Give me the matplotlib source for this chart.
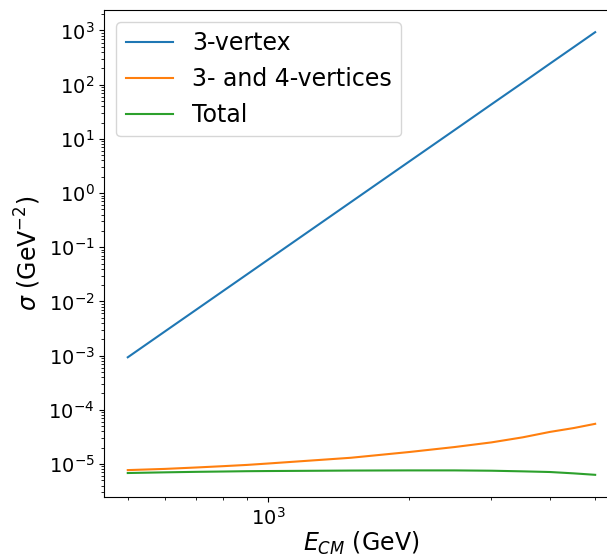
import numpy as np
import matplotlib.pyplot as plt

# data
energy = [500, 600, 700, 800, 900, 1000, 1500, 2000, 2500, 3000, 3500, 4000, 4500, 5000]

three_vertex = [9.3e-4, 2.78e-3, 7.0e-3, 1.56e-2, 3.16e-2, 5.95e-2, 0.678, 3.81,
                14.5, 43.4, 109, 244, 494, 930]
three_four = [7.7e-6, 8.1e-6, 8.6e-6, 9.1e-6, 9.6e-6, 1.02e-5, 1.3e-5, 1.66e-5,
              2.05e-5, 2.5e-5, 3.1e-5, 3.9e-5, 4.6e-5, 5.5e-5]
total = [6.8e-6, 7.0e-6, 7.15e-6, 7.25e-6, 7.35e-6, 7.4e-6, 7.55e-6, 7.6e-6,
         7.6e-6, 7.5e-6, 7.3e-6, 7.1e-6, 6.7e-6, 6.3e-6]

fig = plt.figure(figsize=(6.07, 5.59), dpi=100)
ax = fig.add_axes([0.172, 0.111, 0.847, 0.871])

ax.plot(energy, three_vertex, label='3-vertex')
ax.plot(energy, three_four, label='3- and 4-vertices')
ax.plot(energy, total, label='Total')

ax.set_xscale('log')
ax.set_yscale('log')
ax.set_xlabel(r'$E_{CM}$ (GeV)', fontsize=17, labelpad=1)
ax.set_ylabel(r'$\sigma$ (GeV$^{-2}$)', fontsize=17)
ax.tick_params(axis='both', which='major', labelsize=14)
ax.legend(loc='upper left', fontsize=17)

fig.savefig('out.png', dpi=100)
